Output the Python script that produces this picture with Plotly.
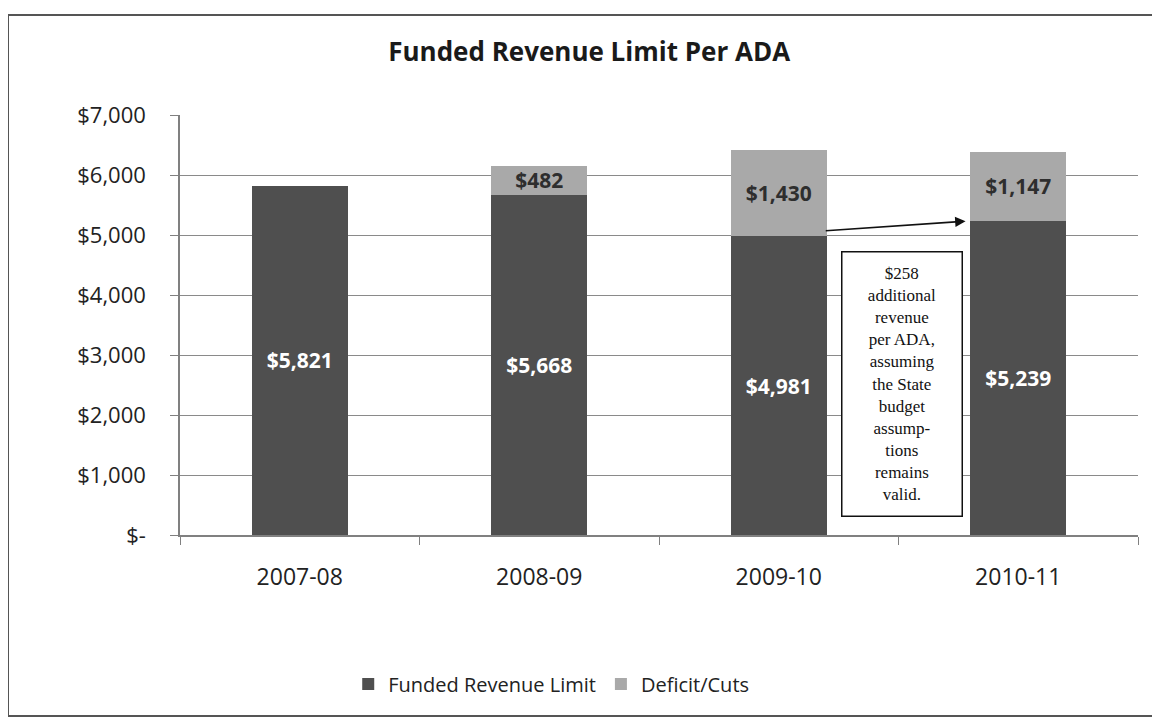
import plotly.graph_objects as go

years = ["2007-08", "2008-09", "2009-10", "2010-11"]
funded = [5821, 5668, 4981, 5239]
deficit = [0, 482, 1430, 1147]
y_ticks = [0, 1000, 2000, 3000, 4000, 5000, 6000, 7000]
y_tick_labels = ["$-", "$1,000", "$2,000", "$3,000", "$4,000", "$5,000", "$6,000", "$7,000"]
note_lines = ["$258", "additional", "revenue", "per ADA,", "assuming", "the State",
              "budget", "assump-", "tions", "remains", "valid."]

def money(v):
    return "${:,}".format(v)

fig = go.Figure()
fig.add_trace(go.Bar(
    x=years, y=funded, name="Funded Revenue Limit",
    marker=dict(color="#4f4f4f", line=dict(width=0)),
    text=[money(v) for v in funded], textposition="inside", insidetextanchor="middle",
    constraintext="none",
    textfont=dict(family="Open Sans", size=21, color="white", weight="bold"),
    hoverinfo="skip",
))
fig.add_trace(go.Bar(
    x=years, y=deficit, name="Deficit/Cuts",
    marker=dict(color="#a9a9a9", line=dict(width=0)),
    text=[money(v) if v else "" for v in deficit], textposition="inside", insidetextanchor="middle",
    constraintext="none",
    textfont=dict(family="Open Sans", size=21, color="#2e2e2e", weight="bold"),
    hoverinfo="skip",
))

# arrow from 2009-10 funded bar to 2010-11 funded bar
fig.add_annotation(
    x=2.78, y=5230, ax=2.19, ay=5070, xref="x", yref="y", axref="x", ayref="y",
    text="", showarrow=True, arrowhead=2, arrowsize=1.3, arrowwidth=1.6,
    arrowcolor="#111111", standoff=0, startstandoff=0,
)
# note box
fig.add_annotation(
    x=2.515, y=2520, xref="x", yref="y",
    text="<br>".join(note_lines), showarrow=False,
    font=dict(family="Liberation Serif", size=17, color="#111111"),
    align="center", width=113, height=257, valign="middle",
    bordercolor="#111111", borderwidth=1.5, borderpad=3, bgcolor="white",
)

# outer chart frame
fig.add_shape(type="rect", xref="paper", yref="paper",
              x0=(8 - 180) / 958, x1=(1156 - 180) / 958,
              y0=(535 - 716) / 420, y1=(535 - 15) / 420,
              line=dict(color="#555555", width=2), fillcolor="rgba(0,0,0,0)", layer="below")

fig.update_layout(
    width=1160, height=723,
    barmode="stack", bargap=0.6,
    paper_bgcolor="white", plot_bgcolor="white",
    margin=dict(l=172, r=30, t=107, b=196),
    font=dict(family="Open Sans", color="#222222"),
    title=dict(text="<b>Funded Revenue Limit Per ADA</b>", x=0.501, xref="container",
               xanchor="center", y=1 - 44 / 723, yanchor="middle",
               font=dict(family="Open Sans", size=26, color="#1a1a1a")),
    showlegend=True,
    legend=dict(orientation="h", x=0.3875, xanchor="center", y=-0.355, yanchor="middle",
                font=dict(family="Open Sans", size=20, color="#222222"),
                traceorder="normal", itemwidth=30),
    xaxis=dict(type="category", showline=True, linecolor="#808080", linewidth=1.5,
               ticks="outside", tickson="boundaries", ticklen=8, tickcolor="#808080",
               tickfont=dict(family="Open Sans", size=23, color="#222222"),
               ticklabelstandoff=21, showgrid=False),
    yaxis=dict(range=[0, 7000], tickvals=y_ticks, ticktext=y_tick_labels,
               showline=True, linecolor="#808080", linewidth=1.5,
               ticks="outside", ticklen=8, tickcolor="#808080",
               showgrid=True, gridcolor="#8a8a8a", gridwidth=1.3, zeroline=False,
               tickfont=dict(family="Open Sans", size=22, color="#222222"),
               ticklabelstandoff=20),
)

fig.write_html("out.html")
